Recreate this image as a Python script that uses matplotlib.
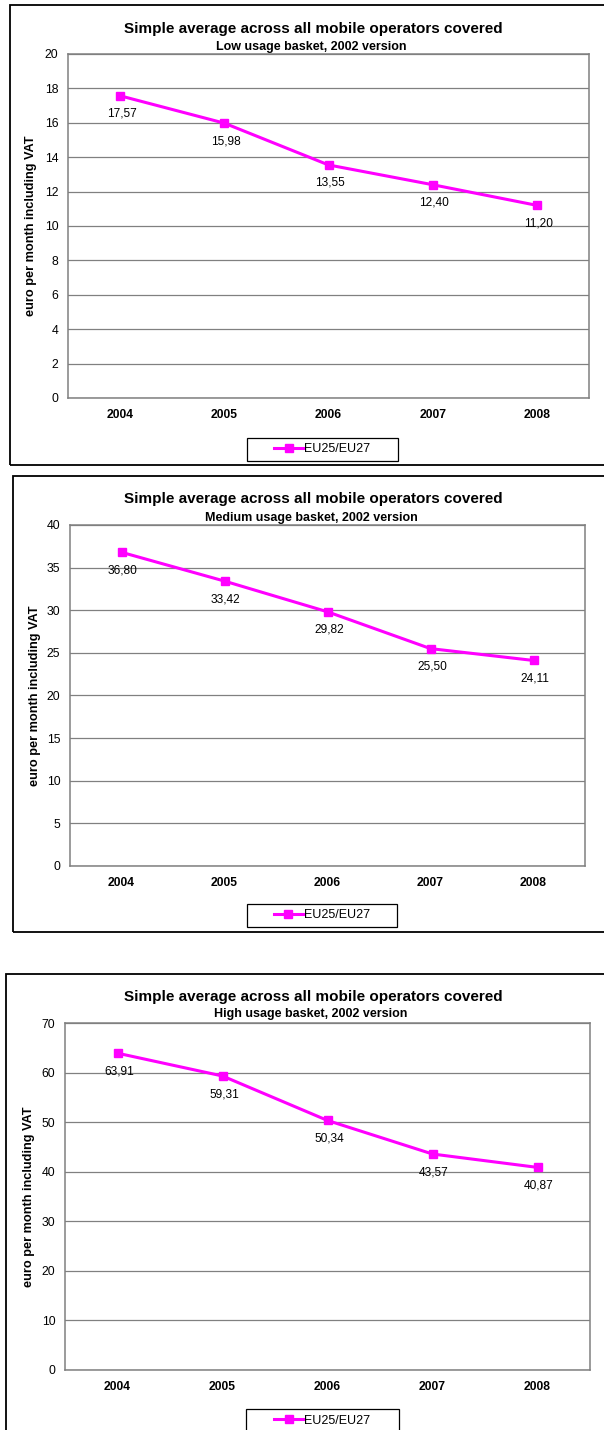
#Three Excel-style line charts: simple average across all mobile operators
#low / medium / high usage basket, 2002 version

import matplotlib
matplotlib.use('Agg')
import matplotlib.pyplot as plt
from matplotlib.patches import Rectangle

plt.rcParams['font.family'] = ['Liberation Sans', 'DejaVu Sans']

# data
years = ['2004', '2005', '2006', '2007', '2008']
low_usage = [17.57, 15.98, 13.55, 12.40, 11.20]
medium_usage = [36.80, 33.42, 29.82, 25.50, 24.11]
high_usage = [63.91, 59.31, 50.34, 43.57, 40.87]

title = 'Simple average across all mobile operators covered'
subtitles = ['Low usage basket, 2002 version',
             'Medium usage basket, 2002 version',
             'High usage basket, 2002 version']
y_max = [20, 40, 70]
y_step = [2, 5, 10]
series_name = 'EU25/EU27'

W, H = 604, 1430
fig = plt.figure(figsize=(W / 100, H / 100), dpi=100)

def fx(px):
    return px / W

def fy(py):
    return 1 - py / H

# pixel layout of each panel: plot box, title rows, legend box, outer border
layout = [
    dict(plot=(68, 589, 54, 398), title_y=29, sub_y=47, ylab_x=31,
         legend=(247, 398, 438, 461), border=(10, 620, 5, 465)),
    dict(plot=(70, 585, 525, 866), title_y=499, sub_y=518, ylab_x=35,
         legend=(247, 397, 904, 927), border=(13, 620, 476, 932)),
    dict(plot=(65, 590, 1023, 1370), title_y=997, sub_y=1014, ylab_x=29,
         legend=(246, 399, 1409, 1432), border=(6, 620, 974, 1450)),
]

all_series = [low_usage, medium_usage, high_usage]
magenta = '#FF00FF'
grey = '#808080'

for i, values in enumerate(all_series):
    lay = layout[i]
    l, r, t, b = lay['plot']
    ax = fig.add_axes([fx(l), fy(b), fx(r) - fx(l), fy(t) - fy(b)])
    ax.set_zorder(1)

    x = range(len(years))
    line, = ax.plot(x, values, color=magenta, lw=2.2, marker='s', ms=6.3,
                    label=series_name, clip_on=False, zorder=3)
    for xi, v in zip(x, values):
        ax.annotate(('%.2f' % v).replace('.', ','), (xi, v), xytext=(1, -13),
                    textcoords='offset points', ha='center', va='center',
                    fontsize=8.6, zorder=4)

    ax.set_xlim(-0.5, len(years) - 0.5)
    ax.set_ylim(0, y_max[i])
    ax.set_xticks(list(x))
    ax.set_xticklabels(years, fontweight='bold')
    ax.set_yticks(range(0, y_max[i] + 1, y_step[i]))
    ax.tick_params(axis='x', length=0, pad=8, labelsize=8.7)
    ax.tick_params(axis='y', length=0, pad=7, labelsize=8.8)
    ax.yaxis.grid(True, color=grey, lw=0.9)
    ax.set_axisbelow(True)
    for s in ax.spines.values():
        s.set_color(grey)
        s.set_linewidth(1.1)

    # titles
    fig.text(fx(313), fy(lay['title_y']), title, ha='center', va='center',
             fontsize=11, fontweight='bold')
    fig.text(fx(311), fy(lay['sub_y']), subtitles[i], ha='center',
             va='center', fontsize=9, fontweight='bold', zorder=-1)
    fig.text(fx(lay['ylab_x']), fy((t + b) / 2),
             'euro per month including VAT', rotation=90, ha='center',
             va='center', fontsize=9.2, fontweight='bold')

    # legend with a plain black box
    ll, lr, lt, lb = lay['legend']
    fig.patches.append(Rectangle((fx(ll), fy(lb)), fx(lr) - fx(ll),
                                 fy(lt) - fy(lb), transform=fig.transFigure,
                                 fill=False, edgecolor='black', lw=0.9))
    leg = ax.legend(handles=[line], loc='center',
                    bbox_to_anchor=(fx((ll + lr) / 2), fy((lt + lb) / 2)),
                    bbox_transform=fig.transFigure, frameon=False,
                    fontsize=9, handlelength=2.3, handletextpad=0.1,
                    borderpad=0, markerscale=0.9)

    # outer chart border
    bl, br, bt, bb = lay['border']
    fig.patches.append(Rectangle((fx(bl), fy(bb)), fx(br) - fx(bl),
                                 fy(bt) - fy(bb), transform=fig.transFigure,
                                 fill=False, edgecolor='black', lw=1.3))

plt.savefig('out.png', dpi=100)
